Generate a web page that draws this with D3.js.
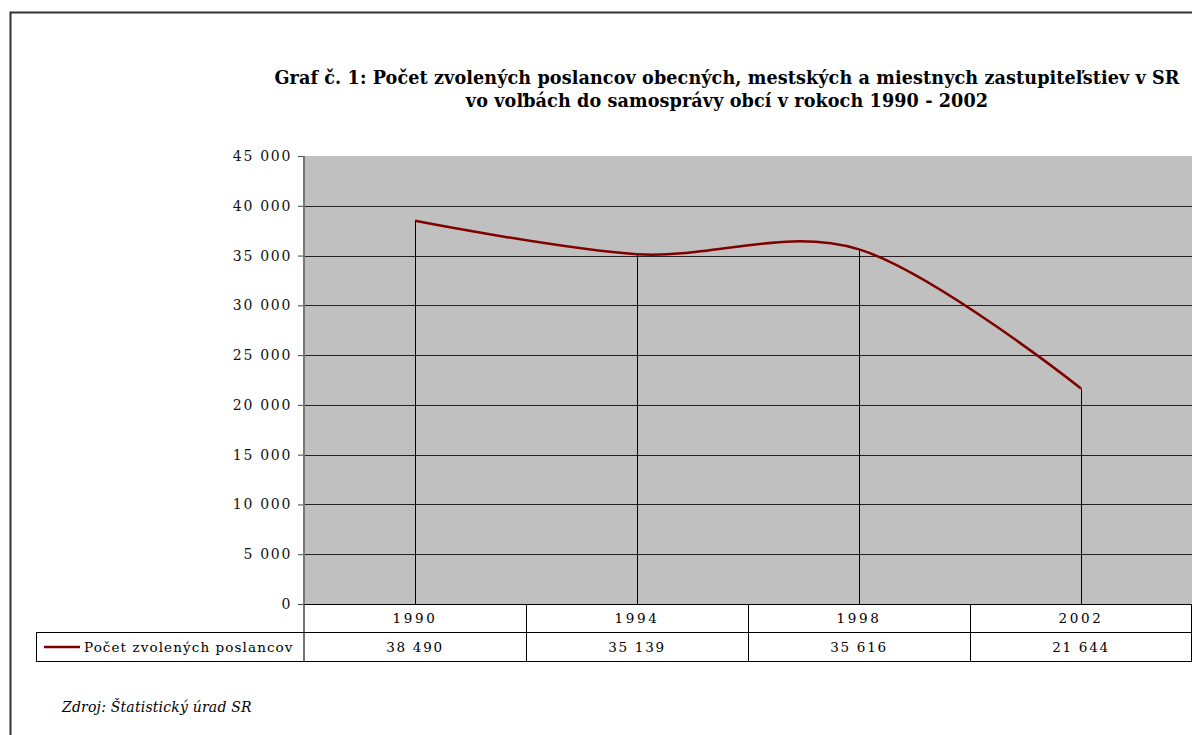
<!DOCTYPE html>
<html><head><meta charset="utf-8">
<script src="https://cdn.jsdelivr.net/npm/d3@7"></script>
<style>
html,body{margin:0;padding:0;background:#fff;}
svg{display:block;}
</style></head><body>
<svg id="c" width="1192" height="735" font-family="DejaVu Serif, serif"></svg>
<script>
const years = ["1990","1994","1998","2002"];
const values = [38490,35139,35616,21644];
const valueLabels = ["38 490","35 139","35 616","21 644"];
const yTicks = [0,5000,10000,15000,20000,25000,30000,35000,40000,45000];
const seriesName = "Počet zvolených poslancov";
const titleLines = ["Graf č. 1: Počet zvolených poslancov obecných, mestských a miestnych zastupiteľstiev v SR","vo voľbách do samosprávy obcí v rokoch 1990 - 2002"];
const sourceText = "Zdroj: Štatistický úrad SR";

const svg = d3.select("#c");
const L = 304, R = 1192, T = 156, B = 604;
const row1 = 632, row2 = 661, legL = 36;

// outer frame
svg.append("path").attr("d", `M10.5,735 L10.5,12.5 L1192,12.5`).attr("fill","none").attr("stroke","#333").attr("stroke-width",2);

const x = d3.scaleBand().domain(years).range([L,R]).padding(0);
const y = d3.scaleLinear().domain([0,45000]).range([B,T]);

// plot area
svg.append("rect").attr("x",L).attr("y",T).attr("width",R-L).attr("height",B-T).attr("fill","#C0C0C0");

// gridlines
svg.append("g").selectAll("line").data(yTicks.filter(d=>d>0 && d<45000)).join("line")
  .attr("x1",L).attr("x2",R).attr("y1",d=>Math.round(y(d))+0.5).attr("y2",d=>Math.round(y(d))+0.5)
  .attr("stroke","#222").attr("stroke-width",1);

// drop lines
svg.append("g").selectAll("line").data(years).join("line")
  .attr("x1",d=>Math.round(x(d)+x.bandwidth()/2)+0.5).attr("x2",d=>Math.round(x(d)+x.bandwidth()/2)+0.5)
  .attr("y1",(d,i)=>y(values[i])).attr("y2",B)
  .attr("stroke","#000").attr("stroke-width",1);

// y axis
const yAxis = d3.axisLeft(y).tickValues(yTicks).tickSize(6).tickPadding(6)
  .tickFormat(d=>d3.format(",")(d).replace(/,/g," "));
const ga = svg.append("g").attr("transform",`translate(${L},0)`).call(yAxis);
ga.select(".domain").remove();
ga.selectAll(".tick line").attr("stroke","#444");
ga.selectAll(".tick text").attr("font-size",14).attr("letter-spacing","1.7px").attr("font-family","DejaVu Serif, serif").attr("fill","#111");
svg.append("line").attr("x1",L).attr("x2",L).attr("y1",T).attr("y2",row2).attr("stroke","#777").attr("stroke-width",2);

// line
const line = d3.line().x((d,i)=>x(years[i])+x.bandwidth()/2).y(d=>y(d)).curve(d3.curveCardinal.tension(0));
svg.append("path").datum(values).attr("d",line).attr("fill","none").attr("stroke","#800000").attr("stroke-width",2.5);

// data table
const tg = svg.append("g");
tg.append("line").attr("x1",L).attr("x2",R).attr("y1",B+0.5).attr("y2",B+0.5).attr("stroke","#000");
tg.append("line").attr("x1",legL).attr("x2",R).attr("y1",row1+0.5).attr("y2",row1+0.5).attr("stroke","#000");
tg.append("line").attr("x1",legL).attr("x2",R).attr("y1",row2+0.5).attr("y2",row2+0.5).attr("stroke","#000");
tg.append("line").attr("x1",legL+0.5).attr("x2",legL+0.5).attr("y1",row1).attr("y2",row2+1).attr("stroke","#000");
tg.selectAll(".vs").data(years.slice(1)).join("line")
  .attr("x1",d=>Math.round(x(d))+0.5).attr("x2",d=>Math.round(x(d))+0.5).attr("y1",B).attr("y2",row2)
  .attr("stroke","#000");
tg.append("line").attr("x1",R-0.5).attr("x2",R-0.5).attr("y1",B).attr("y2",row2).attr("stroke","#000");
tg.selectAll(".yl").data(years).join("text")
  .attr("x",d=>x(d)+x.bandwidth()/2).attr("y",(B+row1)/2+5).attr("text-anchor","middle")
  .attr("font-size",13.5).attr("letter-spacing","2.6px").text(d=>d);
tg.selectAll(".vl").data(valueLabels).join("text")
  .attr("x",(d,i)=>x(years[i])+x.bandwidth()/2).attr("y",(row1+row2)/2+5).attr("text-anchor","middle")
  .attr("font-size",13.5).attr("letter-spacing","1.7px").text(d=>d);
tg.append("line").attr("x1",44).attr("x2",80).attr("y1",647).attr("y2",647).attr("stroke","#800000").attr("stroke-width",2.5);
tg.append("text").attr("x",84).attr("y",652).attr("font-size",13.5).attr("letter-spacing","1.1px").text(seriesName);

// title
svg.selectAll(".title").data(titleLines).join("text")
  .attr("x",727).attr("y",(d,i)=>84+i*23).attr("text-anchor","middle")
  .attr("font-size",17.6).attr("font-weight","bold").attr("letter-spacing","0.1px").text(d=>d);

// source
svg.append("text").attr("x",62).attr("y",712).attr("font-size",14).attr("font-style","italic").attr("letter-spacing","0.2px").text(sourceText);
</script></body></html>
